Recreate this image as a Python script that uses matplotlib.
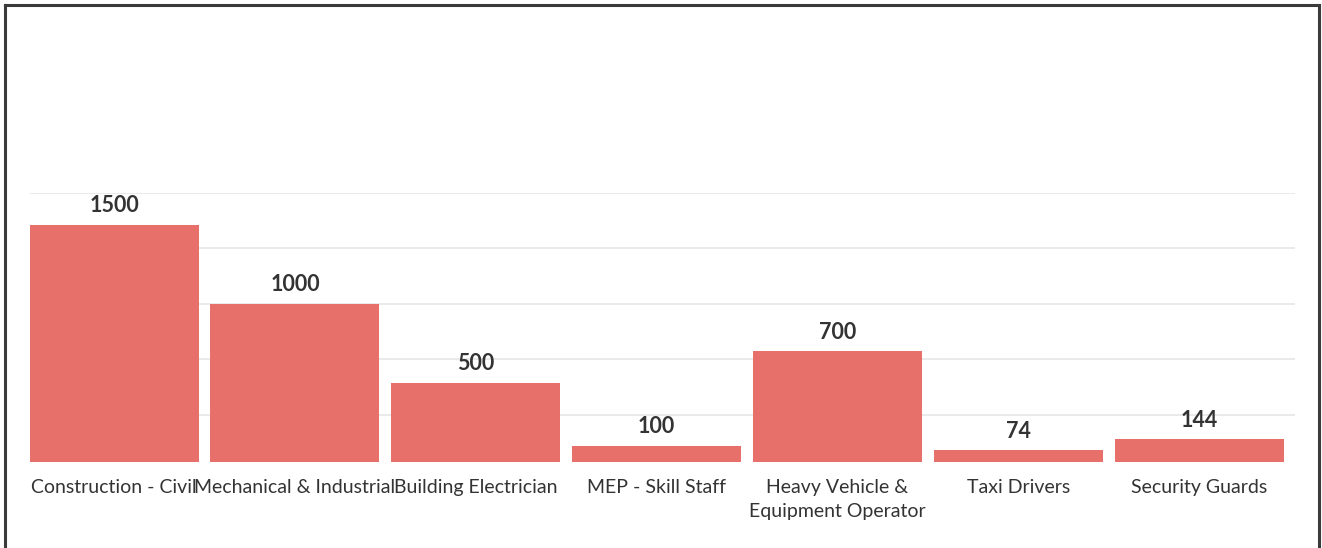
import matplotlib
matplotlib.use('Agg')

import matplotlib.pyplot as plt
from matplotlib.lines import Line2D

plt.rcParams['font.family'] = ['Liberation Sans Narrow', 'Lato', 'DejaVu Sans']

# data
categories = ['Construction - Civil', 'Mechanical & Industrial', 'Building Electrician',
              'MEP - Skill Staff', 'Heavy Vehicle &\nEquipment Operator', 'Taxi Drivers',
              'Security Guards']
values = [1500, 1000, 500, 100, 700, 74, 144]
grid_ticks = [300, 650, 1000, 1350, 1700]

bar_color = '#E8706A'
text_color = '#333333'

fig = plt.figure(figsize=(13.22, 5.48), dpi=100)
fig.patch.set_facecolor('white')
ax = fig.add_axes([30 / 1322, 1 - 462 / 548, 1265 / 1322, 269 / 548])

x = range(len(categories))
bars = ax.bar(x, values, width=0.935, color=bar_color, zorder=2)

for rect, v in zip(bars, values):
	ax.text(rect.get_x() + rect.get_width() / 2, v + 55, str(v),
			ha='center', va='bottom', fontsize=15.5, fontweight='bold',
			color=text_color, clip_on=False, zorder=3)

ax.set_xlim(-0.465, 6.53)
ax.set_ylim(0, 1700)
ax.set_yticks(grid_ticks)
ax.set_yticklabels([])
ax.yaxis.grid(True, color='#e6e6e6', linewidth=1.2, zorder=0)
ax.set_axisbelow(True)
ax.tick_params(axis='y', length=0)
ax.set_xticks(list(x))
ax.set_xticklabels(categories, fontsize=14, color=text_color, linespacing=1.55)
ax.tick_params(axis='x', length=0, pad=12)
for s in ax.spines.values():
	s.set_visible(False)

# frame round the picture (no bottom edge)
fig.add_artist(Line2D([5 / 1322, 5 / 1322], [0, 1 - 5 / 548], color='#3a3a3a', lw=2.2))
fig.add_artist(Line2D([5 / 1322, 1319 / 1322], [1 - 5 / 548, 1 - 5 / 548], color='#3a3a3a', lw=2.2))
fig.add_artist(Line2D([1319 / 1322, 1319 / 1322], [0, 1 - 5 / 548], color='#3a3a3a', lw=2.2))

fig.savefig('out.png', dpi=100, facecolor='white')
